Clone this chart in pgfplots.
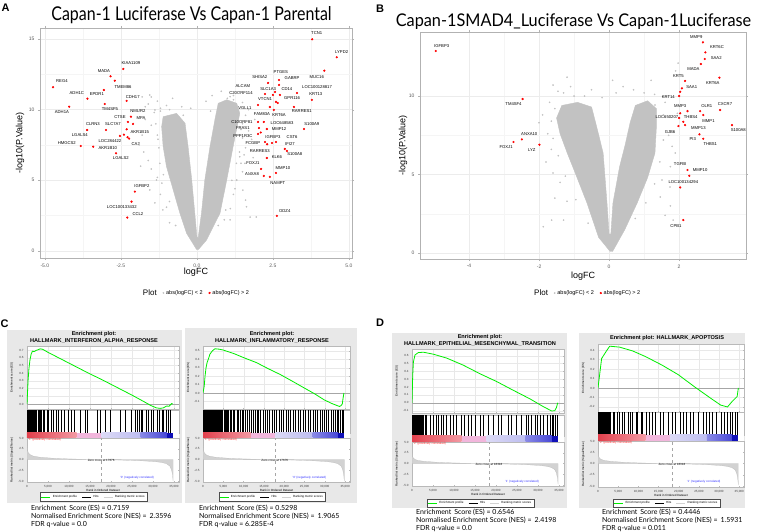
\documentclass[border=0pt]{standalone}
\usepackage{graphicx}
\usepackage{fontspec}
\setmainfont{Liberation Sans}
\newfontfamily\gill{Lato}
\usepackage{pgfplots}
\pgfplotsset{compat=1.18}

\definecolor{cloud}{HTML}{C2C2C2}
\definecolor{gsbg}{HTML}{E8E8E8}
\definecolor{esgreen}{HTML}{00EE00}
\definecolor{r1}{HTML}{E2404C}
\definecolor{r2}{HTML}{F39AA4}
\definecolor{pk}{HTML}{F2B6DC}
\definecolor{lv1}{HTML}{DCDAF6}
\definecolor{lv2}{HTML}{BDBDF0}
\definecolor{b1}{HTML}{8A8AE6}
\definecolor{b2}{HTML}{4848D6}
\definecolor{b3}{HTML}{1010B8}

\newcommand\gn{\fontsize{4.2}{4.6}\selectfont}
\newcommand\tf{\fontsize{3}{3.4}\selectfont}
\newcommand\gt{\bfseries\fontsize{5.6}{6}\selectfont}
\newcommand\st{\gill\fontsize{7}{8}\selectfont}

\pgfplotsset{
  volc/.style={scale only axis, anchor=north west,
    axis line style={gray!60}, tick style={gray!60}, tick align=outside,
    major tick length=2pt, minor tick length=0pt, minor tick num=1,
    grid=both, major grid style={gray!15, line width=0.5pt},
    minor grid style={gray!8, line width=0.3pt},
    tick label style={font=\fontsize{5}{6}\selectfont, text=black!65},
    xlabel style={font=\fontsize{9}{10}\selectfont},
    ylabel style={font=\fontsize{9}{10}\selectfont},
    legend style={draw=none, fill=none, font=\fontsize{5.5}{6}\selectfont,
      legend columns=-1, /tikz/every even column/.append style={column sep=4pt}}},
  gs/.style={scale only axis, anchor=north west, xmin=0, xmax=36200,
    axis background/.style={fill=white},
    axis line style={gray!55, line width=0.3pt},
    tick style={gray!55, line width=0.3pt}, tick align=inside, major tick length=1pt,
    tick label style={font=\tf, text=black!75},
    /pgf/number format/assume math mode=true,
    scaled x ticks=false, xtick={0,5000,...,35000}},
  gses/.style={gs, grid=major, grid style={gray!18, line width=0.2pt},
    xticklabels={},
    yticklabel style={/pgf/number format/.cd, fixed, fixed zerofill, precision=1},
    ylabel={Enrichment score (ES)},
    ylabel style={font=\tf, at={(axis description cs:-0.1,0.5)}, anchor=center}},
  gshit/.style={gs, ymin=0, ymax=1, xtick=\empty, ytick=\empty},
  gsbar/.style={gs, ymin=0, ymax=1, xtick=\empty, ytick=\empty, axis line style={draw=none}},
  gsrk/.style={gs, ymin=-5.2, ymax=5, ytick={-5,-2.5,0,2.5,5},
    yticklabel style={/pgf/number format/.cd, fixed, fixed zerofill, precision=1},
    xticklabel style={/pgf/number format/.cd, 1000 sep={,}},
    xlabel={Rank in Ordered Dataset}, ylabel={Ranked list metric (Signal2Noise)},
    xlabel style={font=\tf, at={(axis description cs:0.5,-0.19)}, anchor=center},
    ylabel style={font=\tf, at={(axis description cs:-0.1,0.5)}, anchor=center},
    legend style={font=\tf, legend columns=-1, draw=black!70, line width=0.3pt,
      fill=white, inner sep=0.6pt, anchor=center,
      /tikz/every even column/.append style={column sep=3pt}},
    legend image code/.code={\draw[##1] (0pt,0pt) -- (9pt,0pt);}},
}

\newcommand\gslegend{%
  \addlegendimage{esgreen, line width=0.6pt}\addlegendentry{Enrichment profile}
  \addlegendimage{black, line width=0.4pt}\addlegendentry{Hits}
  \addlegendimage{gray!35, line width=0.4pt}\addlegendentry{Ranking metric scores}}
\newcommand\colbar{%
  \addplot[draw=none, left color=r1, right color=r2] coordinates {(0,0)(11800,0)(11800,1)(0,1)} -- cycle;
  \addplot[draw=none, fill=pk] coordinates {(11800,0)(17800,0)(17800,1)(11800,1)} -- cycle;
  \addplot[draw=none, left color=lv1, right color=lv2] coordinates {(17800,0)(27000,0)(27000,1)(17800,1)} -- cycle;
  \addplot[draw=none, left color=b1, right color=b2] coordinates {(27000,0)(33300,0)(33300,1)(27000,1)} -- cycle;
  \addplot[draw=none, fill=b3] coordinates {(33300,0)(34700,0)(34700,1)(33300,1)} -- cycle;}
% gene labels: x/y/name
\newcommand\genelabels[1]{%
  \foreach \x/\y/\t in {#1}{%
    \edef\tmp{\noexpand\node[font=\noexpand\gn, inner sep=0pt] at (axis cs:\x,\y) {\t};}\tmp}}

\begin{document}
\begin{tikzpicture}[x=1pt,y=1pt]
\useasboundingbox (0,0) rectangle (757,532);

% ---------- panel letters and titles
\node[font=\bfseries\fontsize{11}{12}\selectfont] at (5.5,524) {A};
\node[font=\bfseries\fontsize{11}{12}\selectfont] at (380,523) {B};
\node[font=\bfseries\fontsize{11}{12}\selectfont] at (4.5,208) {C};
\node[font=\bfseries\fontsize{11}{12}\selectfont] at (380,209) {D};
\node[font=\gill\fontsize{19}{20}\selectfont, anchor=base] at (191.5,511.3) {\scalebox{0.84}[1]{Capan-1 Luciferase Vs Capan-1 Parental}};
\node[font=\gill\fontsize{17.5}{19}\selectfont, anchor=base] at (573.5,505.5) {\scalebox{0.93}[1]{Capan-1SMAD4\_Luciferase Vs Capan-1Luciferase}};

% ---------- A: volcano
\begin{axis}[volc, at={(40pt,504pt)}, width=312pt, height=230pt,
  xmin=-5.16, xmax=5.10, ymin=-0.5, ymax=15.78,
  xtick={-5,-2.5,0,2.5,5}, xticklabels={-5.0,-2.5,0.0,2.5,5.0},
  ytick={0,5,10,15}, yticklabels={0,5,10,15},
  xlabel={logFC}, ylabel={-log10(P.Value)},
  xlabel style={at={(axis description cs:0.5,-0.061)}, anchor=center},
  ylabel style={at={(axis description cs:-0.064,0.5)}, anchor=center},
  legend style={at={(axis description cs:0.5,-0.152)}, anchor=center}]
\addlegendimage{empty legend}\addlegendentry[font=\fontsize{8}{9}\selectfont]{Plot}
\addlegendimage{only marks, mark=*, mark size=0.7pt, cloud}\addlegendentry{abs(logFC) < 2}
\addlegendimage{only marks, mark=*, mark size=0.9pt, red}\addlegendentry{abs(logFC) > 2}
\addplot[fill=cloud, draw=cloud, forget plot] coordinates {
(-0.01,0.1)(-0.34,1.25)(-0.56,2.67)(-0.78,4.32)(-1.0,5.97)(-1.11,7.38)(-1.16,8.8)(-1.11,9.5)
(-0.67,9.74)(-0.39,9.04)(-0.29,7.38)(-0.17,5.02)(-0.07,2.67)(0.0,1.0)(0.04,0.9)(0.15,2.67)
(0.26,5.02)(0.43,7.38)(0.59,9.27)(0.70,10.45)(0.98,10.7)(1.31,10.45)(1.41,9.74)(1.19,7.38)
(0.98,5.02)(0.76,2.67)(0.32,0.78)(0.05,0.1)} -- cycle;
\addplot[only marks, mark=*, mark size=0.6pt, cloud, forget plot] coordinates {
(-1.55,11.04)(-1.38,9.98)(-1.22,6.2)(-1.33,5.02)(-1.55,4.32)(-1.38,3.4)(-1.12,2.9)(1.09,10.92)
(1.41,11.18)(1.41,6.67)(1.58,6.2)(1.31,5.02)(1.51,4.3)(1.09,2.2)(1.63,3.13)
(-1.8,10.9)(-1.6,10.4)(-1.9,9.9)(-1.4,9.8)(-1.7,9.3)(-1.2,10.1)(-1.5,8.9)(-1.8,8.2)(-1.9,7.5)
(-1.75,7.0)(-1.6,6.4)(-1.5,5.8)(-1.3,5.2)(-1.85,6.0)(-1.2,4.0)(-1.0,3.1)(1.0,10.8)(1.3,10.2)
(1.6,9.6)(1.5,9.0)(1.7,8.5)(1.8,7.9)(1.6,7.3)(1.55,6.8)(1.45,6.2)(1.7,5.5)(1.3,5.0)(1.25,4.4)
(1.6,3.6)(1.75,2.4)(1.95,2.4)(1.1,3.0)(0.9,2.2)(-1.5,10.9)(1.9,9.3)(1.85,6.6)(-0.9,2.0)
(-1.7,10.2)(-1.3,10.6)(-1.0,10.3)(-0.8,10.8)(-0.5,10.2)(-0.2,10.1)(0.3,10.6)(0.5,11.0)(0.8,11.3)
(1.2,11.0)(1.5,10.5)(1.7,10.0)(-1.35,9.0)(-1.3,8.2)(-1.25,7.3)(1.5,8.0)(1.4,7.0)(1.5,5.6)(1.2,4.0)
(0.95,2.9)(-0.9,3.5)(-1.15,4.8)(-0.7,1.8)(0.7,1.8)(-1.2,9.9)(-0.9,10.0)(1.2,10.7)(1.45,8.6)
(-1.28,7.9)(1.3,6.2)(1.15,5.0)(-1.1,5.4)(-0.45,9.6)(0.45,9.9)};
\addplot[only marks, mark=*, mark size=0.9pt, red, forget plot] coordinates {
(-4.73,11.59)(-4.20,10.21)(-2.42,12.88)(-2.84,12.36)(-2.70,12.05)(-3.06,11.39)(-3.60,10.78)
(-2.31,10.62)(-3.03,10.40)(-2.17,9.50)(-2.27,9.13)(-2.10,8.99)(-3.61,8.56)(-2.99,8.56)(-2.31,8.61)
(-2.53,8.14)(-2.40,8.23)(-2.23,7.95)(-2.28,8.05)(-3.82,7.43)(-3.41,7.38)(-2.66,6.91)(-2.04,4.20)
(-2.15,3.49)(-2.29,2.36)
(3.79,14.98)(4.60,13.71)(4.19,12.76)(2.70,12.10)(2.34,11.89)(2.70,11.75)(2.57,11.25)(2.24,11.11)
(3.29,11.18)(2.50,11.04)(2.73,11.04)(3.78,10.69)(2.60,10.55)(2.66,10.47)(2.01,10.33)(3.19,10.19)
(2.40,10.19)(2.53,9.98)(2.01,9.13)(2.20,9.13)(3.52,8.63)(2.04,8.70)(2.30,8.63)(2.01,8.28)(2.10,8.38)
(2.47,7.64)(2.60,7.71)(2.24,7.71)(2.31,7.55)(2.89,7.22)(2.96,7.08)(2.30,6.58)(2.11,5.80)(2.60,5.52)
(2.20,5.31)(2.40,5.24)(2.63,2.48)};
\genelabels{-4.44/12.03/REG4, -4.44/9.84/ADH1A, -2.17/13.30/KIAA1109, -3.06/12.74/MADA,
  -2.43/11.61/TMEM86, -3.95/11.18/ADH1C, -3.29/11.08/EPDR1, -2.11/10.90/CDH17, -2.86/10.05/TM4SF5,
  -1.94/9.91/NMUR2, -2.53/9.48/CTSE, -1.84/9.41/MPA, -3.85/8.21/LGALS4, -3.42/8.99/CLRN3,
  -2.76/8.99/SLC7A7, -2.86/7.78/LOC284422, -1.88/8.42/AKR1B15, -2.01/7.57/CA2, -4.28/7.64/HMGCS2,
  -2.93/7.29/AKR1B10, -2.50/6.58/LGALS2, -1.81/4.60/IGFBP2, -2.47/3.11/LOC100133432, -1.94/2.62/CCL2,
  3.94/15.41/TCN1, 4.76/14.06/LYPD2, 3.94/12.34/MUC16, 2.76/12.67/PTGES, 2.07/12.31/SHISA2,
  3.13/12.24/GABRP, 2.34/11.46/SLC1A3, 1.51/11.68/ALCAM, 3.95/11.61/LOC100128817,
  1.45/11.18/C20ORF114, 2.96/11.46/CD14, 3.91/11.11/KRT13, 2.24/10.76/VTCN1, 3.13/10.83/GPR116,
  1.58/10.12/VGLL1, 3.45/9.91/RARRES1, 2.14/9.70/FAM83A, 2.70/9.62/KRT6A, 1.48/9.13/C10ORF81,
  2.80/9.06/LOC648583, 3.78/8.99/S100A9, 1.51/8.70/FRAS1, 2.70/8.63/MMP12, 1.51/8.14/PPP1R3C,
  2.50/8.07/IGFBP3, 3.13/8.07/CST6, 1.84/7.64/FCGBP, 3.06/7.57/IFI27, 2.07/7.08/RARRES3,
  3.22/6.86/S100A8, 2.63/6.65/KLK6, 1.84/6.23/FOXJ1, 2.83/5.87/MMP10, 1.81/5.45/ANXA8,
  2.66/4.81/NAMPT, 2.89/2.83/ODZ4}
\end{axis}

% ---------- B: volcano
\begin{axis}[volc, at={(420pt,500pt)}, width=326pt, height=227pt,
  xmin=-5.4, xmax=3.91, ymin=-0.38, ymax=14.08,
  xtick={-4,-2,0,2}, xticklabels={-4,-2,0,2},
  ytick={0,5,10}, yticklabels={0,5,10},
  xlabel={logFC}, ylabel={-log10(P.Value)},
  xlabel style={at={(axis description cs:0.5,-0.075)}, anchor=center},
  ylabel style={at={(axis description cs:-0.052,0.5)}, anchor=center},
  legend style={at={(axis description cs:0.513,-0.15)}, anchor=center}]
\addlegendimage{empty legend}\addlegendentry[font=\fontsize{8}{9}\selectfont]{Plot}
\addlegendimage{only marks, mark=*, mark size=0.7pt, cloud}\addlegendentry{abs(logFC) < 2}
\addlegendimage{only marks, mark=*, mark size=0.9pt, red}\addlegendentry{abs(logFC) > 2}
\addplot[fill=cloud, draw=cloud, forget plot] coordinates {
(0.03,0.1)(-0.3,1.0)(-0.63,3.18)(-0.95,5.0)(-1.2,6.4)(-1.4,7.6)(-1.5,8.6)(-1.35,9.4)(-0.9,9.6)
(-0.5,9.3)(-0.35,8.0)(-0.17,6.37)(-0.06,3.18)(0.0,1.2)(0.05,1.2)(0.11,3.18)(0.3,5.5)(0.46,6.9)
(0.6,8.3)(0.75,9.4)(1.1,9.7)(1.35,9.2)(1.35,8.0)(1.31,6.37)(1.1,4.8)(0.8,3.18)(0.45,1.5)(0.1,0.1)} -- cycle;
\addplot[only marks, mark=*, mark size=0.6pt, cloud, forget plot] coordinates {
(-1.88,1.68)(-1.64,2.1)(-1.3,2.1)(-1.6,5.1)(-1.4,4.5)(-1.6,10.7)(-1.46,10.3)(-1.7,9.6)(-1.9,8.8)
(-1.75,7.6)(-1.65,6.6)(-2.0,8.3)(-1.55,3.5)(-1.2,3.3)(1.97,12.1)(1.9,11.6)(1.31,9.43)(1.6,9.6)
(1.46,3.57)(1.51,4.65)(1.74,4.2)(1.83,2.1)(1.89,6.37)(1.8,6.8)(1.7,7.5)(1.95,8.9)(1.75,3.0)(1.6,2.4)
(1.0,10.2)(-1.0,10.0)(-0.5,10.4)(0.4,10.6)(1.75,5.5)(-1.8,5.8)
(-1.3,10.2)(-1.1,10.6)(-0.7,10.0)(-0.2,9.9)(0.2,10.2)(0.7,10.4)(1.3,10.1)(1.55,8.8)(1.55,7.2)
(1.45,5.8)(1.3,4.4)(1.05,3.2)(0.75,2.2)(-0.6,1.9)(-0.95,3.4)(-1.25,4.9)(-1.45,6.2)(-1.6,7.3)
(-1.65,8.4)(-1.55,9.2)(1.2,11.0)(-1.2,11.2)(0.1,11.0)};
\addplot[only marks, mark=*, mark size=0.9pt, red, forget plot] coordinates {
(-4.95,12.87)(-2.47,9.81)(-2.49,7.24)(-2.73,7.07)(-1.99,6.90)(2.68,13.42)(2.75,12.78)(2.73,12.36)
(2.62,12.04)(3.15,11.17)(2.17,10.96)(2.08,10.49)(2.03,10.27)(2.0,10.0)(2.24,9.04)(2.60,9.04)
(3.17,9.11)(2.03,8.90)(2.0,8.60)(2.69,8.79)(3.51,8.15)(1.98,8.09)(2.17,8.15)(2.12,8.36)(2.58,7.56)
(2.69,7.28)(2.24,5.29)(2.29,4.92)(2.03,4.18)(2.12,2.10)};
\genelabels{-4.78/13.18/IGFBP3, -2.73/9.49/TM4SF4, -2.28/7.58/ANXA10, -2.94/6.73/FOXJ1,
  -2.21/6.56/LYZ, 2.49/13.74/MMP9, 3.08/13.10/KRT6C, 3.06/12.44/SAA2, 2.41/11.70/MADA,
  2.96/10.81/KRT6A, 1.98/11.27/KRT5, 2.36/10.55/SAA1, 1.69/9.92/KRT14, 2.03/9.36/MMP3,
  2.79/9.36/OLR1, 3.31/9.49/CXCR7, 2.33/8.68/THBS4, 1.65/8.64/LOC650207, 2.84/8.43/MMP1,
  3.69/7.83/S100A8, 1.74/7.73/GJB6, 2.55/7.94/MMP13, 2.39/7.24/PI3, 2.89/6.94/THBS1,
  2.03/5.65/TGFBI, 2.60/5.29/MMP10, 2.12/4.54/LOC100134294, 1.91/1.72/CPB1}
\end{axis}

% ---------- C left
\fill[gsbg] (7,202) rectangle (182,29);
\node[font=\gt] at (94,198) {Enrichment plot:};
\node[font=\gt] at (94,191) {HALLMARK\_INTERFERON\_ALPHA\_RESPONSE};
\begin{axis}[gses, at={(27pt,186pt)}, width=152pt, height=63pt, ymin=-0.065, ymax=0.752,
  ytick={0,0.1,0.2,0.3,0.4,0.5,0.6,0.7}]
\addplot[gray!70, line width=0.3pt] coordinates {(0,0)(36200,0)};
\addplot[esgreen, line width=0.8pt] coordinates {(0,0)(100,0.12)(250,0.3)(450,0.45)(700,0.57)
(1000,0.65)(1300,0.685)(1700,0.68)(2200,0.695)(2700,0.705)(3100,0.715)(3700,0.71)(5000,0.67)
(7500,0.6)(10000,0.53)(12500,0.46)(15000,0.39)(17500,0.325)(20000,0.255)(22500,0.185)(25000,0.115)
(27700,0.035)(29500,-0.02)(30800,-0.05)(31700,-0.057)(32500,-0.05)(33260,-0.026)(33800,-0.03)
(34450,0.005)(34700,0.0)};
\end{axis}
\begin{axis}[gshit, at={(27pt,122pt)}, width=152pt, height=23pt]
\addplot[ycomb, black, line width=0.4pt] coordinates {(0,1)(100,1)(200,1)(300,1)(400,1)(500,1)
(600,1)(700,1)(800,1)(900,1)(1000,1)(1100,1)(1200,1)(1300,1)(1400,1)(1600,1)(1850,1)(2100,1)(2300,1)
(2600,1)(2900,1)(3200,1)(3500,1)(3800,1)(4200,1)(4700,1)(5100,1)(5880,1)(6270,1)(7070,1)(7460,1)
(8100,1)(8810,1)(9850,1)(10480,1)(11200,1)(12620,1)(13820,1)(14370,1)(16600,1)(17390,1)(18580,1)
(19770,1)(22150,1)(23500,1)(24770,1)(25730,1)(26360,1)(26760,1)(27150,1)(27550,1)(28500,1)(28900,1)
(29460,1)(30090,1)(30890,1)(31520,1)(32080,1)(32470,1)(33270,1)(33670,1)(34220,1)};
\end{axis}
\begin{axis}[gsbar, at={(27pt,99pt)}, width=152pt, height=5pt]
\colbar
\end{axis}
\begin{axis}[gsrk, at={(27pt,94pt)}, width=152pt, height=44pt,
  legend style={at={(axis description cs:0.44,-0.34)}}]
\gslegend
\addplot[fill=gray!35, draw=gray!55, line width=0.2pt, forget plot] coordinates {(0,0)(0,3.2)(100,2.3)
(300,1.6)(700,1.15)(1500,0.8)(3000,0.55)(6000,0.32)(10000,0.15)(14000,0.05)(17676,0)(21000,-0.08)
(25000,-0.2)(28000,-0.32)(30500,-0.48)(32000,-0.65)(33200,-0.95)(34000,-1.5)(34400,-2.3)
(34650,-3.5)(34800,-5.0)(34800,0)} -- cycle;
\addplot[gray!70, dashed, line width=0.3pt, forget plot] coordinates {(17676,-5.2)(17676,5)};
\node[font=\tf, text=red!80, anchor=north west, inner sep=0.5pt] at (axis cs:200,5) {'1' (positively correlated)};
\node[font=\tf, inner sep=0.5pt] at (axis cs:17676,-0.15) {Zero cross at 17676};
\node[font=\tf, text=blue!80, inner sep=0.5pt] at (axis cs:26200,-4.1) {'0' (negatively correlated)};
\end{axis}
\node[font=\st, anchor=north west, align=left, inner sep=0pt] at (31,27)
 {Enrichment\, Score (ES) = 0.7159\\Normalised Enrichment Score (NES) =\, 2.3596\\FDR q-value = 0.0};

% ---------- C right
\fill[gsbg] (185,204) rectangle (357,29);
\node[font=\gt] at (272,198) {Enrichment plot:};
\node[font=\gt] at (272,191) {HALLMARK\_INFLAMMATORY\_RESPONSE};
\begin{axis}[gses, at={(203pt,186pt)}, width=147pt, height=63pt, ymin=-0.19, ymax=0.558,
  ytick={-0.1,0,0.1,0.2,0.3,0.4,0.5}]
\addplot[gray!70, line width=0.3pt] coordinates {(0,0)(36200,0)};
\addplot[esgreen, line width=0.8pt] coordinates {(0,0)(300,0.08)(500,0.2)(750,0.3)(1000,0.36)
(1300,0.4)(1700,0.46)(2300,0.5)(2950,0.525)(4000,0.52)(5000,0.51)(7500,0.47)(10000,0.42)
(13200,0.36)(16000,0.29)(19000,0.22)(22000,0.14)(24700,0.066)(27500,-0.01)(29800,-0.08)
(31500,-0.12)(32800,-0.145)(33600,-0.16)(34000,-0.15)(34300,-0.13)(34500,-0.06)(34700,0.0)};
\end{axis}
\begin{axis}[gshit, at={(203pt,122pt)}, width=147pt, height=23pt]
\addplot[ycomb, black, line width=0.4pt] coordinates {(0,1)(120,1)(240,1)(360,1)(480,1)(600,1)
(720,1)(840,1)(960,1)(1080,1)(1200,1)(1350,1)(1500,1)(1650,1)(1800,1)(1950,1)(2100,1)(2250,1)
(2400,1)(2600,1)(2800,1)(3000,1)(3200,1)(3400,1)(3600,1)(3850,1)(4100,1)(4350,1)(4600,1)(4850,1)
(5100,1)(5400,1)(5700,1)(6000,1)(6300,1)(6600,1)(7000,1)(7400,1)(7800,1)(8300,1)(8700,1)(9100,1)
(9600,1)(10000,1)(10500,1)(10900,1)(11400,1)(11800,1)(12300,1)(12800,1)(13300,1)(13700,1)(14200,1)
(14800,1)(15300,1)(15900,1)(16400,1)(17000,1)(17600,1)(18100,1)(18700,1)(19300,1)(19800,1)(20400,1)
(21000,1)(21500,1)(22100,1)(22800,1)(23400,1)(24000,1)(24600,1)(25200,1)(25900,1)(26500,1)(27100,1)
(27600,1)(28200,1)(28800,1)(29300,1)(29900,1)(30400,1)(30900,1)(31500,1)(32000,1)(32500,1)(33000,1)
(33400,1)(33900,1)(34300,1)(34600,1)};
\end{axis}
\begin{axis}[gsbar, at={(203pt,99pt)}, width=147pt, height=5pt]
\colbar
\end{axis}
\begin{axis}[gsrk, at={(203pt,94pt)}, width=147pt, height=44pt,
  legend style={at={(axis description cs:0.47,-0.34)}}]
\gslegend
\addplot[fill=gray!35, draw=gray!55, line width=0.2pt, forget plot] coordinates {(0,0)(0,3.2)(100,2.3)
(300,1.6)(700,1.15)(1500,0.8)(3000,0.55)(6000,0.32)(10000,0.15)(14000,0.05)(17676,0)(21000,-0.08)
(25000,-0.2)(28000,-0.32)(30500,-0.48)(32000,-0.65)(33200,-0.95)(34000,-1.5)(34400,-2.3)
(34650,-3.5)(34800,-5.0)(34800,0)} -- cycle;
\addplot[gray!70, dashed, line width=0.3pt, forget plot] coordinates {(17676,-5.2)(17676,5)};
\node[font=\tf, text=red!80, anchor=north west, inner sep=0.5pt] at (axis cs:200,5) {'1' (positively correlated)};
\node[font=\tf, inner sep=0.5pt] at (axis cs:17676,-0.15) {Zero cross at 17676};
\node[font=\tf, text=blue!80, inner sep=0.5pt] at (axis cs:26200,-4.1) {'0' (negatively correlated)};
\end{axis}
\node[font=\st, anchor=north west, align=left, inner sep=0pt] at (199,27)
 {Enrichment\, Score (ES) = 0.5298\\Normalised Enrichment Score (NES) =\, 1.9065\\FDR q-value = 6.285E-4};

% ---------- D left
\fill[gsbg] (392,199) rectangle (567,24);
\node[font=\gt] at (480,195) {Enrichment plot:};
\node[font=\gt] at (480,188) {HALLMARK\_EPITHELIAL\_MESENCHYMAL\_TRANSITION};
\begin{axis}[gses, at={(412pt,183pt)}, width=152pt, height=64pt, ymin=-0.13, ymax=0.686,
  ytick={-0.1,0,0.1,0.2,0.3,0.4,0.5,0.6}]
\addplot[gray!70, line width=0.3pt] coordinates {(0,0)(36200,0)};
\addplot[esgreen, line width=0.8pt] coordinates {(0,0)(170,0.35)(330,0.52)(714,0.61)(1500,0.64)
(2700,0.645)(5070,0.62)(8260,0.57)(12200,0.48)(16200,0.37)(20200,0.27)(24100,0.16)(28100,0.05)
(31300,-0.05)(33300,-0.105)(34000,-0.1)(34400,-0.06)(34700,0.0)};
\end{axis}
\begin{axis}[gshit, at={(412pt,117pt)}, width=152pt, height=21pt]
\addplot[ycomb, black, line width=0.4pt] coordinates {(0,1)(150,1)(300,1)(450,1)(600,1)(750,1)
(900,1)(1050,1)(1200,1)(1350,1)(1500,1)(1650,1)(1800,1)(1950,1)(2100,1)(2250,1)(2400,1)(2550,1)
(2700,1)(3100,1)(3490,1)(4290,1)(5080,1)(5720,1)(6270,1)(6910,1)(7460,1)(8260,1)(9050,1)(9850,1)
(10640,1)(11830,1)(12470,1)(13420,1)(14210,1)(15010,1)(16200,1)(16990,1)(18180,1)(19370,1)(20560,1)
(21360,1)(22950,1)(23740,1)(24930,1)(26120,1)(27310,1)(27710,1)(28500,1)(29300,1)(29700,1)(30490,1)
(31280,1)(32080,1)(32870,1)(33270,1)(33670,1)(34060,1)(34460,1)};
\end{axis}
\begin{axis}[gsbar, at={(412pt,96pt)}, width=152pt, height=6pt]
\colbar
\end{axis}
\begin{axis}[gsrk, at={(412pt,90pt)}, width=152pt, height=44pt,
  legend style={at={(axis description cs:0.45,-0.39)}}]
\gslegend
\addplot[fill=gray!35, draw=gray!55, line width=0.2pt, forget plot] coordinates {(0,0)(0,2.4)(100,1.8)
(300,1.3)(700,0.95)(1500,0.7)(3000,0.5)(6000,0.3)(10000,0.14)(14000,0.05)(18318,0)(21000,-0.07)
(25000,-0.18)(28000,-0.3)(30500,-0.45)(32000,-0.62)(33200,-0.9)(34000,-1.4)(34400,-2.2)
(34650,-3.4)(34800,-4.8)(34800,0)} -- cycle;
\addplot[gray!70, dashed, line width=0.3pt, forget plot] coordinates {(18318,-5.2)(18318,5)};
\node[font=\tf, text=red!80, anchor=north west, inner sep=0.5pt] at (axis cs:200,5) {'2' (positively correlated)};
\node[font=\tf, inner sep=0.5pt] at (axis cs:18318,-0.15) {Zero cross at 18318};
\node[font=\tf, text=blue!80, inner sep=0.5pt] at (axis cs:26200,-4.1) {'1' (negatively correlated)};
\end{axis}
\node[font=\st, anchor=north west, align=left, inner sep=0pt] at (416,23)
 {Enrichment\, Score (ES) = 0.6546\\Normalised Enrichment Score (NES) =\, 2.4198\\FDR q-value = 0.0};

% ---------- D right
\fill[gsbg] (579,199) rectangle (745,24);
\node[font=\gt] at (667,194) {Enrichment plot: HALLMARK\_APOPTOSIS};
\begin{axis}[gses, at={(598pt,188pt)}, width=146pt, height=68pt, ymin=-0.253, ymax=0.463,
  ytick={-0.2,-0.1,0,0.1,0.2,0.3,0.4}]
\addplot[gray!70, line width=0.3pt] coordinates {(0,0)(36200,0)};
\addplot[esgreen, line width=0.8pt] coordinates {(0,0)(490,0.17)(900,0.31)(2100,0.39)(2900,0.44)
(5350,0.43)(8580,0.39)(11800,0.33)(15900,0.24)(19900,0.14)(24000,0.01)(28000,-0.11)(30400,-0.18)
(32100,-0.2)(33300,-0.14)(34500,-0.09)(34800,0.0)};
\end{axis}
\begin{axis}[gshit, at={(598pt,120pt)}, width=146pt, height=23pt]
\addplot[ycomb, black, line width=0.4pt] coordinates {(0,1)(150,1)(300,1)(450,1)(600,1)(750,1)
(900,1)(1050,1)(1200,1)(1350,1)(1500,1)(1650,1)(1800,1)(1950,1)(2100,1)(2250,1)(2400,1)(2550,1)
(2700,1)(2900,1)(3730,1)(4130,1)(4700,1)(5350,1)(5990,1)(6560,1)(7370,1)(7940,1)(8590,1)(9400,1)
(9800,1)(10610,1)(11020,1)(11830,1)(12640,1)(13450,1)(14260,1)(15470,1)(16280,1)(17500,1)(18310,1)
(19120,1)(20330,1)(21140,1)(21950,1)(22760,1)(23570,1)(24790,1)(26000,1)(26810,1)(27620,1)(28430,1)
(29240,1)(30460,1)(31270,1)(32080,1)(32890,1)(33290,1)(34100,1)(34510,1)};
\end{axis}
\begin{axis}[gsbar, at={(598pt,97pt)}, width=146pt, height=6pt]
\colbar
\end{axis}
\begin{axis}[gsrk, at={(598pt,91pt)}, width=146pt, height=46pt,
  legend style={at={(axis description cs:0.47,-0.35)}}]
\gslegend
\addplot[fill=gray!35, draw=gray!55, line width=0.2pt, forget plot] coordinates {(0,0)(0,2.4)(100,1.8)
(300,1.3)(700,0.95)(1500,0.7)(3000,0.5)(6000,0.3)(10000,0.14)(14000,0.05)(18318,0)(21000,-0.07)
(25000,-0.18)(28000,-0.3)(30500,-0.45)(32000,-0.62)(33200,-0.9)(34000,-1.4)(34400,-2.2)
(34650,-3.4)(34800,-4.8)(34800,0)} -- cycle;
\addplot[gray!70, dashed, line width=0.3pt, forget plot] coordinates {(18318,-5.2)(18318,5)};
\node[font=\tf, text=red!80, anchor=north west, inner sep=0.5pt] at (axis cs:200,5) {'2' (positively correlated)};
\node[font=\tf, inner sep=0.5pt] at (axis cs:18318,-0.15) {Zero cross at 18318};
\node[font=\tf, text=blue!80, inner sep=0.5pt] at (axis cs:26200,-4.1) {'1' (negatively correlated)};
\end{axis}
\node[font=\st, anchor=north west, align=left, inner sep=0pt] at (602,23)
 {Enrichment\, Score (ES) = 0.4446\\Normalised Enrichment Score (NES) =\, 1.5931\\FDR q-value = 0.011};

\end{tikzpicture}
\end{document}
